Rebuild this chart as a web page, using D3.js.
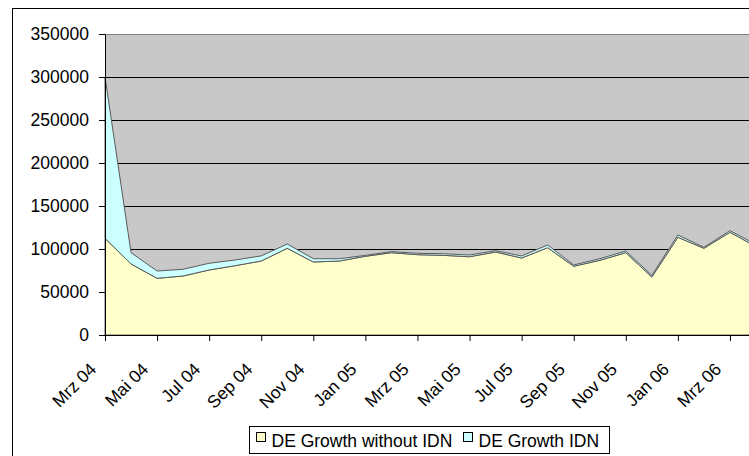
<!DOCTYPE html>
<html>
<head>
<meta charset="utf-8">
<script src="https://cdn.jsdelivr.net/npm/d3@7"></script>
<style>
    body { margin: 0; background: #fff; }
    svg { display: block; font-family: "Liberation Sans", Arial, sans-serif; }
</style>
</head>
<body>
<div class="chart"></div>
<script>

// months Mrz 04 .. Apr 06
var months = ["Mrz 04", "Apr 04", "Mai 04", "Jun 04", "Jul 04", "Aug 04", "Sep 04", "Okt 04", "Nov 04", "Dez 04",
    "Jan 05", "Feb 05", "Mrz 05", "Apr 05", "Mai 05", "Jun 05", "Jul 05", "Aug 05", "Sep 05", "Okt 05",
    "Nov 05", "Dez 05", "Jan 06", "Feb 06", "Mrz 06", "Apr 06"];

var growthWithoutIdn = [112400, 82600, 65900, 68600, 75600, 80600, 86000, 100800, 84900, 86000,
    91500, 95700, 93400, 92600, 91000, 96500, 89500, 101500, 79900, 86800,
    95700, 67400, 113600, 100800, 119400, 102900];

var growthIdn = [187600, 13100, 8500, 7800, 7800, 6600, 6000, 5000, 3800, 2700,
    1100, 1200, 1600, 1900, 2000, 1500, 2400, 3200, 1500, 1900,
    2000, 2000, 2700, 1200, 1900, 2400];

var tickLabels = ["Mrz 04", "Mai 04", "Jul 04", "Sep 04", "Nov 04", "Jan 05", "Mrz 05",
    "Mai 05", "Jul 05", "Sep 05", "Nov 05", "Jan 06", "Mrz 06"];

var yTicks = [0, 50000, 100000, 150000, 200000, 250000, 300000, 350000];

var seriesNames = ["DE Growth without IDN", "DE Growth IDN"];
var seriesColors = ["#FFFFCC", "#CCFFFF"];

var svgWidth = 749;
var svgHeight = 456;

var margin = { top: 34, left: 105 };
var monthStep = 26.04;
var width = monthStep * (months.length - 1);
var height = 301;

var svg = d3.select(".chart")
    .append("svg")
    .attr("width", svgWidth)
    .attr("height", svgHeight);

// outer chart frame (runs past the window on the right and bottom)
svg.append("rect")
    .attr("x", 12.5)
    .attr("y", 8.5)
    .attr("width", 800)
    .attr("height", 500)
    .attr("fill", "#fff")
    .attr("stroke", "#000");

var chartGroup = svg.append("g")
    .attr("transform", `translate(${margin.left}, ${margin.top})`);

var x = d3.scaleLinear()
    .domain([0, months.length - 1])
    .range([0, width]);

var y = d3.scaleLinear()
    .domain([0, 350000])
    .range([height, 0]);

chartGroup.append("rect")
    .attr("width", width + 40)
    .attr("height", height)
    .attr("fill", "#C8C8C8");

// gridlines
chartGroup.selectAll(".grid")
    .data(yTicks.filter(d => d > 0))
    .enter()
    .append("line")
    .attr("x1", 0)
    .attr("x2", width + 40)
    .attr("y1", d => Math.round(y(d)) + 0.5)
    .attr("y2", d => Math.round(y(d)) + 0.5)
    .attr("stroke", d => d == 350000 ? "#808080" : "#000")
    .attr("stroke-width", 1);

var table = months.map(function (m, i) {
    return { month: m, i: i, a: growthWithoutIdn[i], b: growthIdn[i] };
});

var stacked = d3.stack().keys(["a", "b"])(table);

var area = d3.area()
    .x(d => x(d.data.i))
    .y0(d => y(d[0]))
    .y1(d => y(d[1]));

chartGroup.selectAll(".layer")
    .data(stacked)
    .enter()
    .append("path")
    .attr("d", area)
    .attr("fill", (d, i) => seriesColors[i])
    .attr("stroke", "#5a5a5a")
    .attr("stroke-width", 1)
    .attr("stroke-linejoin", "round");

// axes
var leftAxis = d3.axisLeft(y)
    .tickValues(yTicks)
    .tickSize(6)
    .tickSizeOuter(0)
    .tickPadding(10)
    .tickFormat(d3.format("d"));

var yAxisG = chartGroup.append("g")
    .call(leftAxis);
yAxisG.selectAll("text")
    .attr("font-size", "17.5px")
    .attr("font-family", "Liberation Sans, Arial, sans-serif")
    .attr("fill", "#000");

var tickIdx = tickLabels.map(t => months.indexOf(t));

var bottomAxis = d3.axisBottom(x)
    .tickValues(tickIdx)
    .tickSize(6)
    .tickSizeOuter(0)
    .tickFormat(() => "");

chartGroup.append("g")
    .attr("transform", `translate(0, ${height})`)
    .call(bottomAxis);

chartGroup.selectAll(".xlabel")
    .data(tickIdx)
    .enter()
    .append("text")
    .attr("transform", d => `translate(${x(d) - 12}, ${height + 31}) rotate(-45)`)
    .attr("text-anchor", "end")
    .attr("dy", "0.35em")
    .attr("font-size", "17.5px")
    .text(d => months[d]);

// legend
var legend = svg.append("g")
    .attr("transform", "translate(249.5, 426.5)");

legend.append("rect")
    .attr("width", 360)
    .attr("height", 27)
    .attr("fill", "#fff")
    .attr("stroke", "#000");

var legendX = [7, 214];

seriesNames.forEach(function (name, i) {
    legend.append("rect")
        .attr("x", legendX[i])
        .attr("y", 6)
        .attr("width", 9)
        .attr("height", 9)
        .attr("fill", seriesColors[i])
        .attr("stroke", "#000");
    legend.append("text")
        .attr("x", legendX[i] + 15)
        .attr("y", 20)
        .attr("font-size", "17.5px")
        .text(name);
});

</script>
</body>
</html>
